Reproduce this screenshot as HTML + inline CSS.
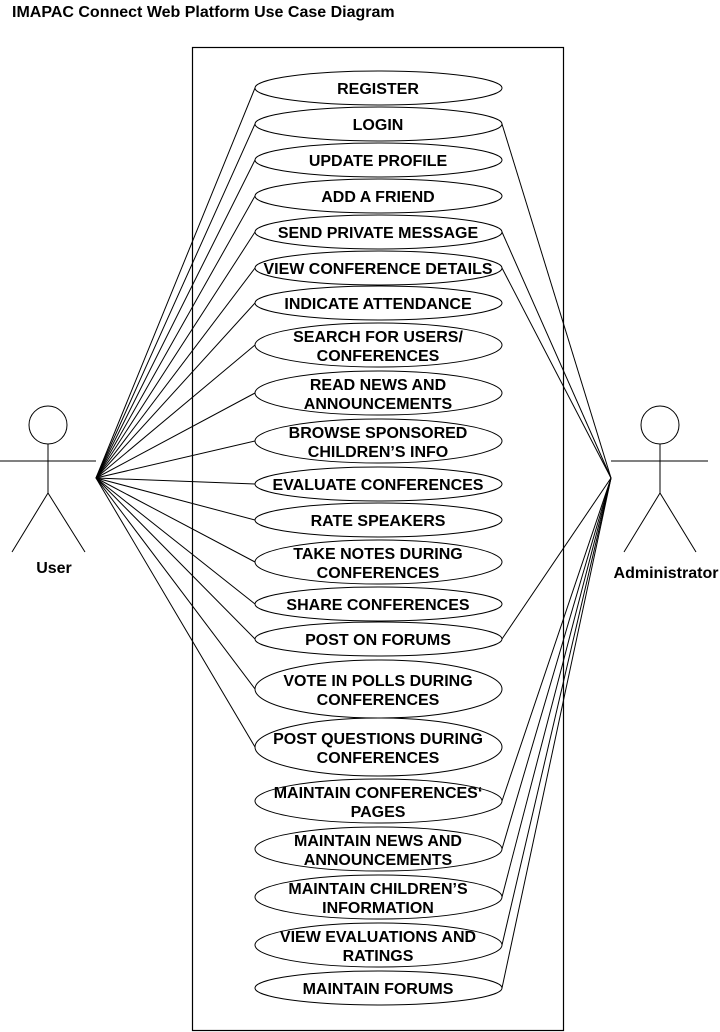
<!DOCTYPE html>
<html><head><meta charset="utf-8"><style>
html,body{margin:0;padding:0;background:#fff;}
svg{display:block;}
text{font-family:"Liberation Sans",sans-serif;font-weight:bold;font-size:16px;fill:#000;}
</style></head><body>
<svg width="720" height="1032" viewBox="0 0 720 1032" xmlns="http://www.w3.org/2000/svg">
<text x="12" y="17" style="font-size:16px">IMAPAC Connect Web Platform Use Case Diagram</text>
<rect x="192.5" y="47.5" width="371" height="983" fill="none" stroke="#000" stroke-width="1.2"/>
<g stroke="#000" stroke-width="1" fill="none">
<line x1="96" y1="478" x2="255" y2="88"/>
<line x1="96" y1="478" x2="255" y2="124"/>
<line x1="96" y1="478" x2="255" y2="160"/>
<line x1="96" y1="478" x2="255" y2="196"/>
<line x1="96" y1="478" x2="255" y2="232"/>
<line x1="96" y1="478" x2="255" y2="268"/>
<line x1="96" y1="478" x2="255" y2="303"/>
<line x1="96" y1="478" x2="255" y2="345"/>
<line x1="96" y1="478" x2="255" y2="393"/>
<line x1="96" y1="478" x2="255" y2="441"/>
<line x1="96" y1="478" x2="255" y2="484"/>
<line x1="96" y1="478" x2="255" y2="520"/>
<line x1="96" y1="478" x2="255" y2="562"/>
<line x1="96" y1="478" x2="255" y2="604"/>
<line x1="96" y1="478" x2="255" y2="639"/>
<line x1="96" y1="478" x2="255" y2="689"/>
<line x1="96" y1="478" x2="255" y2="747"/>
<line x1="611" y1="478" x2="502" y2="124"/>
<line x1="611" y1="478" x2="502" y2="232"/>
<line x1="611" y1="478" x2="502" y2="268"/>
<line x1="611" y1="478" x2="502" y2="639"/>
<line x1="611" y1="478" x2="502" y2="801"/>
<line x1="611" y1="478" x2="502" y2="849"/>
<line x1="611" y1="478" x2="502" y2="897"/>
<line x1="611" y1="478" x2="502" y2="945"/>
<line x1="611" y1="478" x2="502" y2="988"/>
</g>
<g stroke="#000" stroke-width="1" fill="#fff">
<ellipse cx="378.5" cy="88" rx="123.5" ry="17"/>
<ellipse cx="378.5" cy="124" rx="123.5" ry="17"/>
<ellipse cx="378.5" cy="160" rx="123.5" ry="17"/>
<ellipse cx="378.5" cy="196" rx="123.5" ry="17"/>
<ellipse cx="378.5" cy="232" rx="123.5" ry="17"/>
<ellipse cx="378.5" cy="268" rx="123.5" ry="17"/>
<ellipse cx="378.5" cy="303" rx="123.5" ry="17"/>
<ellipse cx="378.5" cy="345" rx="123.5" ry="22"/>
<ellipse cx="378.5" cy="393" rx="123.5" ry="22"/>
<ellipse cx="378.5" cy="441" rx="123.5" ry="22"/>
<ellipse cx="378.5" cy="484" rx="123.5" ry="17"/>
<ellipse cx="378.5" cy="520" rx="123.5" ry="17"/>
<ellipse cx="378.5" cy="562" rx="123.5" ry="22"/>
<ellipse cx="378.5" cy="604" rx="123.5" ry="17"/>
<ellipse cx="378.5" cy="639" rx="123.5" ry="17"/>
<ellipse cx="378.5" cy="689" rx="123.5" ry="29"/>
<ellipse cx="378.5" cy="747" rx="123.5" ry="29"/>
<ellipse cx="378.5" cy="801" rx="123.5" ry="22"/>
<ellipse cx="378.5" cy="849" rx="123.5" ry="22"/>
<ellipse cx="378.5" cy="897" rx="123.5" ry="22"/>
<ellipse cx="378.5" cy="945" rx="123.5" ry="22"/>
<ellipse cx="378.5" cy="988" rx="123.5" ry="17"/>
</g>
<g text-anchor="middle">
<text x="378" y="94">REGISTER</text>
<text x="378" y="130">LOGIN</text>
<text x="378" y="166">UPDATE PROFILE</text>
<text x="378" y="202">ADD A FRIEND</text>
<text x="378" y="238">SEND PRIVATE MESSAGE</text>
<text x="378" y="274">VIEW CONFERENCE DETAILS</text>
<text x="378" y="309">INDICATE ATTENDANCE</text>
<text x="378" y="342">SEARCH FOR USERS/</text><text x="378" y="361">CONFERENCES</text>
<text x="378" y="390">READ NEWS AND</text><text x="378" y="409">ANNOUNCEMENTS</text>
<text x="378" y="438">BROWSE SPONSORED</text><text x="378" y="457">CHILDREN’S INFO</text>
<text x="378" y="490">EVALUATE CONFERENCES</text>
<text x="378" y="526">RATE SPEAKERS</text>
<text x="378" y="559">TAKE NOTES DURING</text><text x="378" y="578">CONFERENCES</text>
<text x="378" y="610">SHARE CONFERENCES</text>
<text x="378" y="645">POST ON FORUMS</text>
<text x="378" y="686">VOTE IN POLLS DURING</text><text x="378" y="705">CONFERENCES</text>
<text x="378" y="744">POST QUESTIONS DURING</text><text x="378" y="763">CONFERENCES</text>
<text x="378" y="798">MAINTAIN CONFERENCES‘</text><text x="378" y="817">PAGES</text>
<text x="378" y="846">MAINTAIN NEWS AND</text><text x="378" y="865">ANNOUNCEMENTS</text>
<text x="378" y="894">MAINTAIN CHILDREN’S</text><text x="378" y="913">INFORMATION</text>
<text x="378" y="942">VIEW EVALUATIONS AND</text><text x="378" y="961">RATINGS</text>
<text x="378" y="994">MAINTAIN FORUMS</text>
</g>
<g stroke="#000" stroke-width="1" fill="none">
<circle cx="48" cy="425" r="19"/>
<line x1="48" y1="444" x2="48" y2="493"/>
<line x1="0" y1="461" x2="96" y2="461"/>
<line x1="48" y1="493" x2="12" y2="552"/>
<line x1="48" y1="493" x2="85" y2="552"/>
<circle cx="660" cy="425" r="19"/>
<line x1="660" y1="444" x2="660" y2="493"/>
<line x1="611" y1="461" x2="708" y2="461"/>
<line x1="660" y1="493" x2="624" y2="552"/>
<line x1="660" y1="493" x2="696" y2="552"/>
</g>
<text x="54" y="573" text-anchor="middle">User</text>
<text x="666" y="578" text-anchor="middle">Administrator</text>
</svg>
</body></html>
